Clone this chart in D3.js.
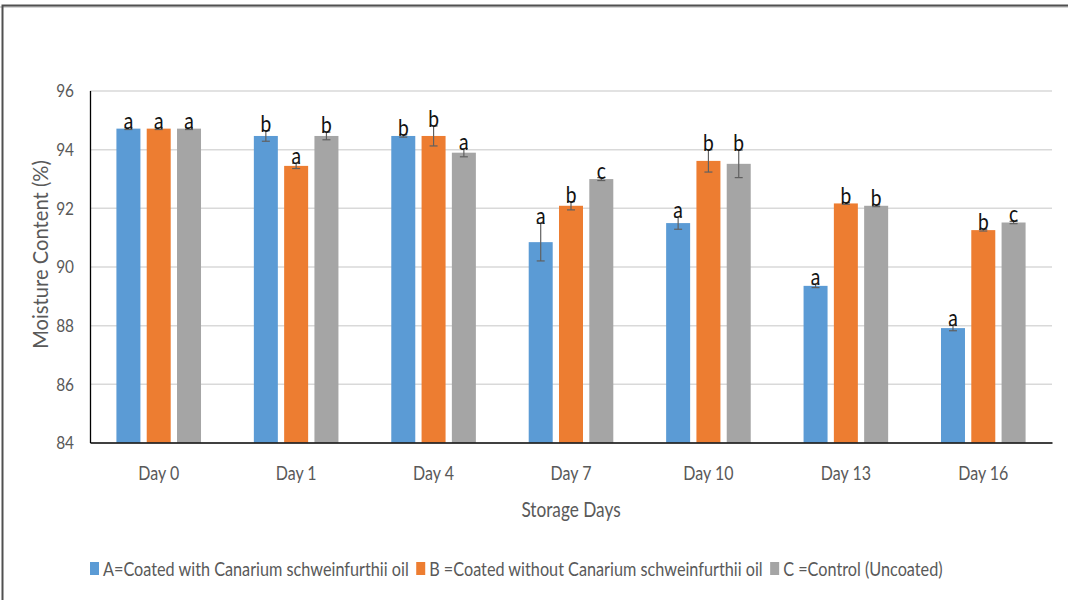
<!DOCTYPE html>
<html>
<head>
<meta charset="utf-8">
<script src="https://cdn.jsdelivr.net/npm/d3@7"></script>
<style>
  html, body { margin: 0; padding: 0; background: #fff; }
  svg { display: block; font-family: Lato, "Open Sans", sans-serif; }
</style>
</head>
<body>
<svg id="chart" width="1068" height="600"></svg>
<script>
// Storage days on the category axis
const days = ["Day 0", "Day 1", "Day 4", "Day 7", "Day 10", "Day 13", "Day 16"];

// Treatments (legend entries)
const seriesNames = [
  "A=Coated with Canarium schweinfurthii oil",
  "B =Coated without Canarium schweinfurthii oil",
  "C =Control (Uncoated)"
];

// Mean moisture content (%) per treatment, one value per storage day
const meanA = [94.70, 94.45, 94.45, 90.83, 91.48, 89.34, 87.90];
const meanB = [94.70, 93.43, 94.45, 92.07, 93.60, 92.15, 91.24];
const meanC = [94.70, 94.45, 93.88, 92.98, 93.50, 92.07, 91.50];

// Standard error per treatment
const errA = [0.03, 0.18, 0.04, 0.64, 0.21, 0.06, 0.09];
const errB = [0.03, 0.09, 0.34, 0.14, 0.38, 0.03, 0.03];
const errC = [0.03, 0.13, 0.14, 0.05, 0.47, 0.03, 0.04];

// Significance letters
const sigA = ["a", "b", "b", "a", "a", "a", "a"];
const sigB = ["a", "a", "b", "b", "b", "b", "b"];
const sigC = ["a", "b", "a", "c", "b", "b", "c"];

// Y axis tick values
const yTicks = [84, 86, 88, 90, 92, 94, 96];

const colors = ["#5B9BD5", "#ED7D31", "#A5A5A5"];
const means = [meanA, meanB, meanC];
const errs = [errA, errB, errC];
const sigs = [sigA, sigB, sigC];

const svg = d3.select("#chart");
const plot = { left: 90, right: 1052, top: 90.5, bottom: 442.5 };

// Chart frame (top and left edges)
svg.append("line").attr("x1", 0).attr("x2", 1068).attr("y1", 7).attr("y2", 7)
  .attr("stroke", "#c8c8c8").attr("stroke-width", 1.5);
svg.append("path").attr("d", "M2.5,600 V5.5 H1068")
  .attr("fill", "none").attr("stroke", "#505050").attr("stroke-width", 2);

const x0 = d3.scaleBand().domain(days).range([plot.left, plot.right]).padding(0);
const x1 = d3.scaleBand().domain([0, 1, 2]).range([0, x0.bandwidth()])
  .paddingInner(0.208).paddingOuter(0.872);
const y = d3.scaleLinear().domain([84, 96]).range([plot.bottom, plot.top]);

// Horizontal gridlines
svg.append("g")
  .attr("transform", `translate(${plot.left},0)`)
  .call(d3.axisLeft(y).tickValues(yTicks.filter(t => t > 84)).tickSize(-(plot.right - plot.left)).tickFormat(""))
  .call(g => g.select(".domain").remove())
  .call(g => g.selectAll("line").attr("stroke", "#d9d9d9").attr("stroke-width", 1.5));

// Bars
const rows = days.map((d, i) => ({ day: d, i }));
const groups = svg.append("g").selectAll("g").data(rows).join("g")
  .attr("transform", d => `translate(${x0(d.day)},0)`);
const cells = d => [0, 1, 2].map(s => ({ s, v: means[s][d.i], e: errs[s][d.i], l: sigs[s][d.i] }));

groups.selectAll("rect")
  .data(cells)
  .join("rect")
  .attr("x", d => x1(d.s))
  .attr("width", x1.bandwidth())
  .attr("y", d => y(d.v))
  .attr("height", d => y(84) - y(d.v))
  .attr("fill", d => colors[d.s]);

// Error bars
const cx = d => x1(d.s) + x1.bandwidth() / 2;
const eb = groups.selectAll("g.err")
  .data(cells)
  .join("g").attr("class", "err")
  .attr("stroke", "#606060").attr("stroke-width", 1.2);
eb.append("line")
  .attr("x1", cx).attr("x2", cx)
  .attr("y1", d => y(d.v - d.e)).attr("y2", d => y(d.v + d.e));
eb.append("line")
  .attr("x1", d => cx(d) - 4).attr("x2", d => cx(d) + 4)
  .attr("y1", d => y(d.v - d.e)).attr("y2", d => y(d.v - d.e));
eb.append("line")
  .attr("x1", d => cx(d) - 4).attr("x2", d => cx(d) + 4)
  .attr("y1", d => y(d.v + d.e)).attr("y2", d => y(d.v + d.e));

// Significance letters
groups.selectAll("text.sig")
  .data(cells)
  .join("text").attr("class", "sig")
  .attr("transform", d => `translate(${cx(d)},${y(d.v + d.e) + 1}) scale(0.8,1)`)
  .attr("text-anchor", "middle")
  .attr("font-size", 24)
  .attr("fill", "#111")
  .text(d => d.l);

// Y axis
svg.append("g")
  .attr("transform", `translate(${plot.left},0)`)
  .call(d3.axisLeft(y).tickValues(yTicks).tickSize(0).tickFormat(d3.format("d")))
  .call(g => g.select(".domain").attr("stroke", "#000").attr("stroke-width", 1.3))
  .call(g => g.selectAll("text")
    .attr("x", 0).attr("dy", "0.36em")
    .attr("transform", "translate(-16,0) scale(0.88,1)")
    .attr("font-size", 17.5).attr("font-family", "Lato, sans-serif").attr("fill", "#595959"));

// X axis
svg.append("g")
  .attr("transform", `translate(0,${plot.bottom})`)
  .call(d3.axisBottom(x0).tickSize(0))
  .call(g => g.select(".domain").attr("stroke", "#000").attr("stroke-width", 1.5))
  .call(g => g.selectAll("text")
    .attr("y", 0).attr("dy", 0)
    .attr("transform", "translate(0,37) scale(0.82,1)")
    .attr("font-size", 19.5).attr("font-family", "Lato, sans-serif").attr("fill", "#595959"));

// Axis titles
svg.append("text")
  .attr("transform", `translate(48,${(plot.top + plot.bottom) / 2 - 12}) rotate(-90) scale(0.96,1)`)
  .attr("text-anchor", "middle")
  .attr("font-size", 21).attr("fill", "#595959")
  .text("Moisture Content (%)");

svg.append("text")
  .attr("transform", `translate(${(plot.left + plot.right) / 2},517) scale(0.82,1)`)
  .attr("text-anchor", "middle")
  .attr("font-size", 21).attr("fill", "#595959")
  .text("Storage Days");

// Legend
const legend = svg.append("g").attr("transform", "translate(90,0)");
let lx = 0;
seriesNames.forEach((name, s) => {
  legend.append("rect").attr("x", lx).attr("y", 562).attr("width", 9).attr("height", 13)
    .attr("fill", colors[s]);
  const t = legend.append("text")
    .attr("transform", `translate(${lx + 13},576) scale(0.855,1)`)
    .attr("font-size", 19).attr("fill", "#595959")
    .text(name);
  lx += 13 + t.node().getComputedTextLength() * 0.855 + 7.5;
});
</script>
</body>
</html>
